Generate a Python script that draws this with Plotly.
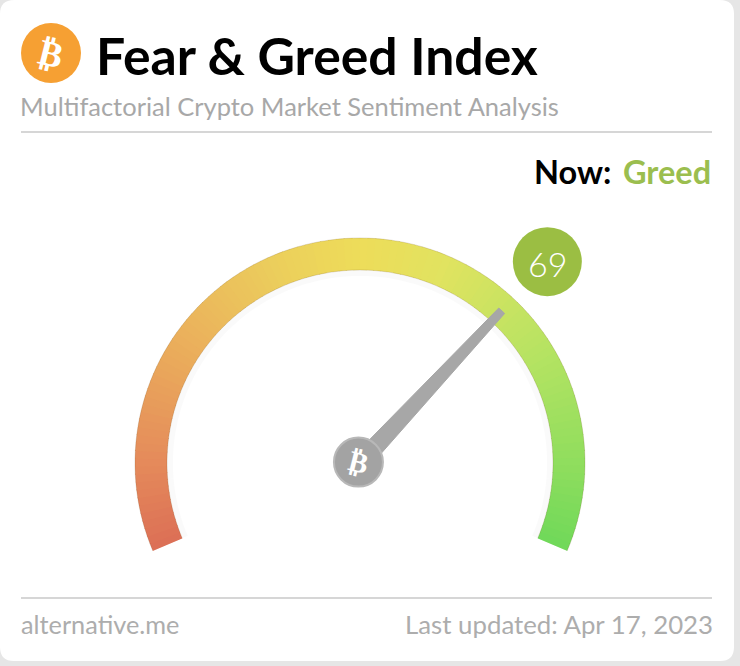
import numpy as np
import plotly.graph_objects as go
from plotly.colors import hex_to_rgb

W = 740
H = 666

# gauge reading
index_value = 69
index_label = "Greed"
updated = "Last updated: Apr 17, 2023"

# colours along the dial, 0 to 100
stop_positions = [0, 10, 25, 40, 50, 60, 75, 90, 100]
stop_colors = ["#dc6f56", "#e58a5b", "#ebaf5c", "#eccf5c", "#eedd5a", "#e2e360", "#b9e463", "#90de5e", "#70d95a"]

# dial geometry in pixels
cx, cy = 360, 463
r_outer = 225
r_inner = 193
r_view = 300
sweep_start = 203
sweep = 226


def to_deg(v):
    return sweep_start - v * sweep / 100


def px(x, y):
    return x / W, 1 - y / H


def dial_color(v):
    rgb = np.array([hex_to_rgb(c) for c in stop_colors])
    parts = [int(np.interp(v, stop_positions, rgb[:, i])) for i in range(3)]
    return f"rgb({parts[0]},{parts[1]},{parts[2]})"


def label(fig, x, y, text, size, color, anchor="left", family="Lato", bold=False, angle=0):
    xp, yp = px(x, y)
    if bold:
        text = f"<b>{text}</b>"
    fig.add_annotation(x=xp, y=yp, xref="paper", yref="paper", text=text, showarrow=False,
                       xanchor=anchor, yanchor="middle", borderpad=0, textangle=angle,
                       font=dict(family=family, size=size, color=color))


def rule(fig, y):
    x0, y0 = px(21, y)
    x1, y1 = px(712, y)
    fig.add_shape(type="line", xref="paper", yref="paper", x0=x0, x1=x1, y0=y0, y1=y1,
                  line=dict(color="#aeaeae", width=1.2))


fig = go.Figure()
fig.add_trace(go.Scatter(x=[None], y=[None], hoverinfo="skip"))

edges = np.linspace(0, 100, 113)
mids = (edges[1:] + edges[:-1]) / 2

# soft shadow under the dial
fig.add_trace(go.Scatterpolar(
    r=[r_inner - 3] * len(edges), theta=[to_deg(e) for e in edges], mode="lines",
    line=dict(color="rgba(0,0,0,0.018)", width=6), hoverinfo="skip",
))

# dial, split in small wedges so the colour runs smoothly
fig.add_trace(go.Barpolar(
    r=[r_outer - r_inner] * len(mids),
    base=r_inner,
    theta=[to_deg(m) for m in mids],
    width=[sweep / len(mids) + 0.3] * len(mids),
    marker=dict(color=[dial_color(m) for m in mids], line=dict(width=0)),
    hoverinfo="skip",
))

# darker rims of the dial
for rim in [r_outer, r_inner]:
    fig.add_trace(go.Scatterpolar(
        r=[rim] * len(edges), theta=[to_deg(e) for e in edges], mode="lines",
        line=dict(color="rgba(110,80,30,0.18)", width=1), hoverinfo="skip",
    ))

# needle
needle_deg = to_deg(index_value)
tip_along, tip_side = 208, 4
back_along, back_side = 20, 9
tip_r = np.hypot(tip_along, tip_side)
tip_half = np.degrees(np.arctan(tip_side / tip_along))
back_r = np.hypot(back_along, back_side)
back_half = np.degrees(np.arctan(back_side / back_along))
fig.add_trace(go.Scatterpolar(
    r=[back_r, tip_r, tip_r, back_r, back_r],
    theta=[needle_deg + back_half, needle_deg + tip_half, needle_deg - tip_half,
           needle_deg - back_half, needle_deg + back_half],
    mode="lines", fill="toself", fillcolor="#a7a7a7", line=dict(color="#a7a7a7", width=1),
    hoverinfo="skip",
))

# hub
fig.add_trace(go.Scatterpolar(
    r=[1.8], theta=[150], mode="markers",
    marker=dict(size=49, color="#a3a3a3", line=dict(color="#b8b8b8", width=2)),
    cliponaxis=False, hoverinfo="skip",
))
label(fig, 358, 462, "<b>₿</b>", 29, "white", anchor="center", family="DejaVu Sans", angle=14)

# value bubble
fig.add_trace(go.Scatterpolar(
    r=[275], theta=[needle_deg], mode="markers",
    marker=dict(size=69, color="#9bbe43"),
    cliponaxis=False, hoverinfo="skip",
))
label(fig, 547, 263, str(index_value), 34, "white", anchor="center", family="Lato Light, Lato")

# white card
x0, y0 = 0, 0
x1, y1 = 734, 661
c = 14
card = (f"M {x0} {y0+c} Q {x0} {y0} {x0+c} {y0} L {x1-c} {y0} Q {x1} {y0} {x1} {y0+c} "
        f"L {x1} {y1-c} Q {x1} {y1} {x1-c} {y1} L {x0+c} {y1} Q {x0} {y1} {x0} {y1-c} Z")
fig.add_shape(type="path", path=card, xref="x", yref="y", fillcolor="white",
              line=dict(width=0), layer="below")

# logo
fig.add_shape(type="circle", xref="x", yref="y", x0=21, x1=81, y0=23, y1=83,
              fillcolor="#f6a033", line=dict(width=0), layer="below")
label(fig, 51, 53, "<b>₿</b>", 36, "white", anchor="center", family="DejaVu Sans", angle=14)

label(fig, 95, 55, "Fear &amp; Greed Index", 51.7, "#000000", bold=True)
label(fig, 19, 105.5, "Multifactorial Crypto Market Sentiment Analysis", 25.5, "#a8a8a8")
rule(fig, 132)
label(fig, 612, 172, "Now:", 32.5, "#000000", anchor="right", bold=True)
label(fig, 711.5, 172, index_label, 32.5, "#9bbe4f", anchor="right", bold=True)
rule(fig, 598)
label(fig, 20, 624, "alternative.me", 25.3, "#adadad")
label(fig, 714, 624, updated, 25.8, "#adadad", anchor="right")

sector_drop = r_view * np.sin(np.radians(sweep_start - 180))
fig.update_layout(
    width=W, height=H, autosize=False,
    margin=dict(l=0, r=0, t=0, b=0),
    paper_bgcolor="#e6e6e6",
    plot_bgcolor="#e6e6e6",
    showlegend=False,
    xaxis=dict(visible=False, range=[0, W], domain=[0, 1], fixedrange=True),
    yaxis=dict(visible=False, range=[H, 0], domain=[0, 1], fixedrange=True),
    polar=dict(
        domain=dict(x=[(cx - r_view) / W, (cx + r_view) / W],
                    y=[(H - cy - sector_drop) / H, (H - cy + r_view) / H]),
        sector=[sweep_start - sweep, sweep_start],
        bgcolor="rgba(0,0,0,0)",
        radialaxis=dict(visible=False, range=[0, r_view]),
        angularaxis=dict(visible=False, direction="counterclockwise", rotation=0),
    ),
)

fig.write_html("out.html", post_script="document.body.style.margin='0';", config=dict(displayModeBar=False))
